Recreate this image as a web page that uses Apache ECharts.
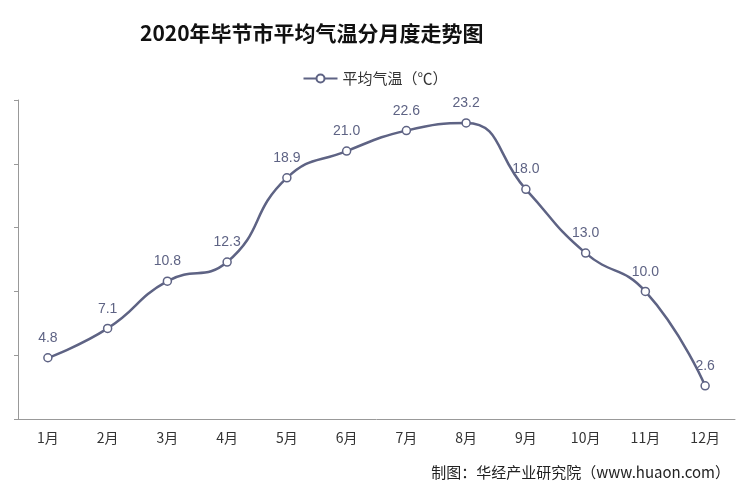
<!DOCTYPE html>
<html><head><meta charset="utf-8">
<script src="https://cdn.jsdelivr.net/npm/echarts@6/dist/echarts.min.js"></script>
<style>html,body{margin:0;padding:0;background:#fff}#c{width:750px;height:500px}</style>
</head><body><div id="c"></div>
<script>
const months = ['1月','2月','3月','4月','5月','6月','7月','8月','9月','10月','11月','12月'];
const temps = [4.8,7.1,10.8,12.3,18.9,21.0,22.6,23.2,18.0,13.0,10.0,2.6];
const chart = echarts.init(document.getElementById('c'));
chart.setOption({
  backgroundColor:'#fff',
  title:[{text:'2020年毕节市平均气温分月度走势图',left:135,top:18,textStyle:{fontSize:21,fontWeight:'bold',color:'#111',fontFamily:'Noto Sans CJK SC'}},
         {text:'制图：华经产业研究院（www.huaon.com）',right:15,top:460,textStyle:{fontSize:15,fontWeight:'normal',color:'#222',fontFamily:'Noto Sans CJK SC'}}],
  legend:{top:66,left:'center',data:['平均气温（℃）'],itemWidth:34,itemHeight:10,textStyle:{fontSize:15,color:'#333',fontFamily:'Noto Sans CJK SC'}},
  grid:{left:18,right:15,top:100,bottom:81},
  xAxis:{type:'category',data:months,boundaryGap:true,axisLine:{lineStyle:{color:'#999'}},axisTick:{show:false},
    axisLabel:{fontSize:14,color:'#333',margin:12,fontFamily:'Noto Sans CJK SC'}},
  yAxis:{type:'value',min:0,max:25,interval:5,axisLabel:{show:false},axisLine:{show:true,lineStyle:{color:'#999'}},axisTick:{show:true,length:4},splitLine:{show:false}},
  series:[{name:'平均气温（℃）',type:'line',data:temps,smooth:true,symbol:'circle',symbolSize:8,
    itemStyle:{color:'#fff',borderColor:'#5e6384',borderWidth:1.5},
    lineStyle:{color:'#5e6384',width:2.5},
    label:{show:true,position:'top',distance:8,fontSize:14,color:'#5e6384',formatter:p=>p.value.toFixed(1)}}]
});
</script></body></html>
